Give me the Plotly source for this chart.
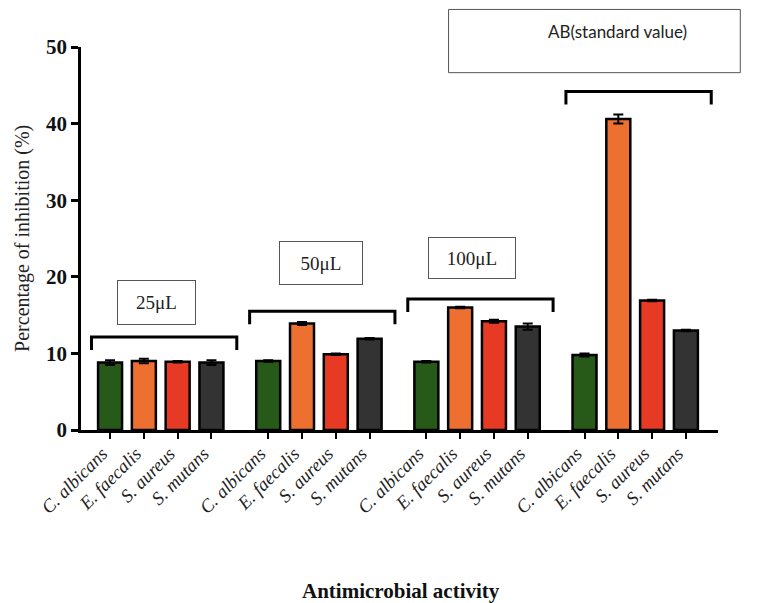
import plotly.graph_objects as go

# ---------------- data ----------------
groups = ["25μL", "50μL", "100μL", "AB(standard value)"]
species = ["C. albicans", "E. faecalis", "S. aureus", "S. mutans"]

c_albicans = [8.8, 9.0, 8.9, 9.8]
e_faecalis = [9.0, 13.9, 16.0, 40.6]
s_aureus = [8.9, 9.9, 14.2, 16.9]
s_mutans = [8.8, 11.9, 13.5, 13.0]

c_albicans_err = [0.3, 0.1, 0.1, 0.2]
e_faecalis_err = [0.3, 0.2, 0.1, 0.6]
s_aureus_err = [0.1, 0.1, 0.2, 0.1]
s_mutans_err = [0.3, 0.1, 0.4, 0.1]

y_ticks = [0, 10, 20, 30, 40, 50]

# ---------------- styling / layout ----------------
colors = ["#275a18", "#ee7030", "#e73a25", "#333333"]
GROUP_STEP = 4.68
BAR_W = 0.71
series = [c_albicans, e_faecalis, s_aureus, s_mutans]
errors = [c_albicans_err, e_faecalis_err, s_aureus_err, s_mutans_err]

SERIF = "Liberation Serif, Times New Roman, serif"

fig = go.Figure()
tickvals, ticktext = [], []
for g in range(len(groups)):
    for i, sp in enumerate(species):
        tickvals.append(g * GROUP_STEP + i)
        ticktext.append(sp)

for i, sp in enumerate(species):
    xs = [g * GROUP_STEP + i for g in range(len(groups))]
    fig.add_trace(go.Bar(
        x=xs, y=series[i], width=BAR_W, name=sp,
        marker=dict(color=colors[i], line=dict(color="black", width=2.5)),
        error_y=dict(type="data", array=errors[i], color="black", thickness=2, width=5),
        showlegend=False,
    ))

# brackets above each group
bracket_y = [12.15, 15.5, 17.1, 44.2]
leg = 1.7
for g in range(len(groups)):
    x0 = g * GROUP_STEP - 0.55
    x1 = g * GROUP_STEP + 3.75
    y = bracket_y[g]
    fig.add_shape(type="path",
                  path=f"M {x0},{y-leg} L {x0},{y} L {x1},{y} L {x1},{y-leg}",
                  xref="x", yref="y", line=dict(color="black", width=3))

# labelled boxes for concentrations (data coords)
box_specs = [  # (x center, y center, width px, height px)
    (1.36, 16.7, 77, 43),
    (6.23, 21.8, 82, 42),
    (10.72, 22.4, 86, 40),
]
for g, (bx, by, bw, bh) in enumerate(box_specs):
    fig.add_annotation(x=bx, y=by, xref="x", yref="y", text=groups[g],
                       showarrow=False, width=bw, height=bh,
                       bordercolor="#555555", borderwidth=1, borderpad=0,
                       bgcolor="white",
                       font=dict(family=SERIF, size=19, color="#222222"))

# AB box (paper coords, above plot)
fig.add_shape(type="rect", xref="paper", yref="paper",
              x0=0.577, x1=1.035, y0=0.933, y1=1.098,
              line=dict(color="#555555", width=1))
fig.add_annotation(x=0.843, y=1.040, xref="paper", yref="paper",
                   text=groups[3], showarrow=False,
                   xanchor="center", yanchor="middle",
                   font=dict(family="Lato, Open Sans, sans-serif", size=17, color="#222222"))

# axis titles
fig.add_annotation(x=-0.092, y=0.5, xref="paper", yref="paper",
                   text="Percentage of inhibition (%)", textangle=-90,
                   showarrow=False, xanchor="center", yanchor="middle",
                   font=dict(family=SERIF, size=20, color="#222222"))
fig.add_annotation(x=0.502, y=-0.42, xref="paper", yref="paper",
                   text="Antimicrobial activity", showarrow=False,
                   xanchor="center", yanchor="middle",
                   font=dict(family=SERIF, size=21, color="#111111", weight="bold"))

# page body adds an 8px offset, so the figure is 8px smaller and margins shifted
fig.update_layout(
    width=760, height=595,
    margin=dict(l=73, r=50, t=39, b=173),
    plot_bgcolor="white", paper_bgcolor="white",
    barmode="overlay",
    xaxis=dict(range=[-0.86, 17.99], tickvals=tickvals, ticktext=ticktext,
               tickangle=-45, ticks="outside", ticklen=6, tickwidth=2,
               tickcolor="black", showline=True, linecolor="black", linewidth=2.5,
               showgrid=False, zeroline=False, automargin=False,
               ticklabelshift=-8, ticklabelstandoff=-3,
               tickfont=dict(family=SERIF, size=18.5, color="#222222", style="italic")),
    yaxis=dict(range=[0, 50], tickvals=y_ticks, ticks="outside", ticklen=7,
               tickwidth=2.5, tickcolor="black", showline=True, linecolor="black",
               linewidth=2.5, showgrid=False, zeroline=False, automargin=False,
               tickfont=dict(family=SERIF, size=21, color="#111111", weight="bold")),
)

fig.write_html("out.html")
